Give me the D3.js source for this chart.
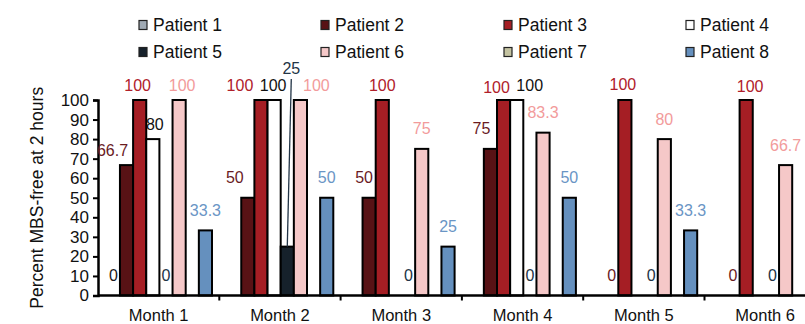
<!DOCTYPE html>
<html>
<head>
<meta charset="utf-8">
<script src="https://cdn.jsdelivr.net/npm/d3@7/dist/d3.min.js"></script>
<style>
  html, body { margin: 0; padding: 0; background: #fff; }
  svg { display: block; font-family: "Liberation Sans", Arial, sans-serif; }
</style>
</head>
<body>
<svg id="chart" width="805" height="324"></svg>
<script>
// Months on the x axis
const months = ["Month 1", "Month 2", "Month 3", "Month 4", "Month 5", "Month 6"];
// Patient series (null = no bar and no label)
const patients = ["Patient 1", "Patient 2", "Patient 3", "Patient 4",
                  "Patient 5", "Patient 6", "Patient 7", "Patient 8"];
const patient1 = [0, null, null, null, null, null];
const patient2 = [66.7, 50, 50, 75, 0, 0];
const patient3 = [100, 100, 100, 100, 100, 100];
const patient4 = [80, 100, null, 100, null, null];
const patient5 = [0, 25, 0, 0, 0, 0];
const patient6 = [100, 100, 75, 83.3, 80, 66.7];
const patient7 = [null, null, null, null, null, null];
const patient8 = [33.3, 50, 25, 50, 33.3, null];
const yTicks = [0, 10, 20, 30, 40, 50, 60, 70, 80, 90, 100];
const yTitle = "Percent MBS-free at 2 hours";

const series = [patient1, patient2, patient3, patient4, patient5, patient6, patient7, patient8];

// Styling per patient
const fills = ["#a0aab4", "#581215", "#a51e24", "#ffffff", "#16212b", "#f5c8c8", "#c4c3a1", "#6590be"];
const labelColors = ["#1a1a1a", "#6a1b1f", "#b0202a", "#111111", "#223446", "#f29b9b", "#8a896a", "#6a95c5"];

// Label nudges (dx, dy from default spot) keyed by month index and patient index
const nudges = {
  "0-1": [-14, 5], "0-2": [-2, 5], "0-3": [2, 5], "0-5": [3, 5],
  "1-1": [-13, 0], "1-2": [-21, 5], "1-3": [-1, 5], "1-5": [16, 5],
  "2-1": [-5, 0], "2-2": [0, 5],
  "3-1": [-9, 0], "3-2": [-7, 7], "3-3": [13, 5],
  "4-2": [-2, 4], "5-2": [4, 6]
};

const svg = d3.select("#chart");

const x = d3.scaleBand().domain(months).range([98, 98 + 6 * 121.3]).padding(0);
const xInner = d3.scaleBand().domain(patients).range([8.8, 8.8 + 8 * 13.15]).padding(0);
const y = d3.scaleLinear().domain([0, 100]).range([295.5, 100]);

// Bars
const cells = [];
series.forEach((vals, p) => vals.forEach((v, m) => {
  if (v !== null) cells.push({ m, p, v });
}));

svg.append("g").selectAll("rect")
  .data(cells.filter(d => d.v > 0))
  .join("rect")
  .attr("x", d => x(months[d.m]) + xInner(patients[d.p]))
  .attr("y", d => y(d.v))
  .attr("width", xInner.bandwidth())
  .attr("height", d => y(0) - y(d.v))
  .attr("fill", d => fills[d.p])
  .attr("stroke", "#000")
  .attr("stroke-width", 2);

// Y axis
const yAxis = svg.append("g")
  .attr("transform", "translate(98,0)")
  .call(d3.axisLeft(y).tickValues(yTicks).tickSize(5).tickPadding(4));
yAxis.select(".domain").attr("stroke", "#000").attr("stroke-width", 2.5);
yAxis.selectAll(".tick line").attr("stroke", "#000").attr("stroke-width", 2);
yAxis.selectAll(".tick text")
  .attr("font-size", 17).attr("fill", "#111").attr("font-family", "Liberation Sans, Arial, sans-serif");

// X axis with boundary ticks between months
const xAxis = svg.append("g").attr("transform", `translate(0,${y(0)})`);
xAxis.append("line")
  .attr("x1", 98).attr("x2", 98 + 6 * 121.3)
  .attr("stroke", "#000").attr("stroke-width", 2.5);
xAxis.selectAll("line.b")
  .data(months.slice(1))
  .join("line")
  .attr("class", "b")
  .attr("x1", d => x(d)).attr("x2", d => x(d))
  .attr("y1", 0).attr("y2", 5)
  .attr("stroke", "#000").attr("stroke-width", 2);
xAxis.selectAll("text")
  .data(months)
  .join("text")
  .attr("x", d => x(d) + x.bandwidth() / 2)
  .attr("y", 19.5)
  .attr("text-anchor", "middle")
  .attr("dominant-baseline", "central")
  .attr("font-size", 16.5)
  .attr("fill", "#111")
  .text(d => d);

// Y axis title
svg.append("text")
  .attr("transform", `translate(37,${(y(0) + y(100)) / 2}) rotate(-90)`)
  .attr("text-anchor", "middle")
  .attr("dominant-baseline", "central")
  .attr("font-size", 17.5)
  .attr("fill", "#111")
  .text(yTitle);

// Value labels
const labelG = svg.append("g");
cells.forEach(d => {
  const cx = x(months[d.m]) + xInner(patients[d.p]) + xInner.bandwidth() / 2;
  const nd = nudges[`${d.m}-${d.p}`] || [0, 0];
  let ly = y(d.v) - 20 + nd[1];
  let lx = cx + nd[0];
  if (d.p === 4 && d.v === 25) {
    // callout label with a leader line
    lx = cx + 4; ly = 68;
    labelG.append("line")
      .attr("x1", lx).attr("y1", ly + 11)
      .attr("x2", cx).attr("y2", y(d.v))
      .attr("stroke", "#223446").attr("stroke-width", 1.3);
  }
  labelG.append("text")
    .attr("x", lx).attr("y", ly)
    .attr("text-anchor", "middle")
    .attr("dominant-baseline", "central")
    .attr("font-size", 16)
    .attr("fill", labelColors[d.p])
    .text(d.v);
});

// Legend
const legendCols = [139, 321, 504, 686];
const legendRows = [25, 52];
const legend = svg.append("g").selectAll("g")
  .data(patients)
  .join("g")
  .attr("transform", (d, i) => `translate(${legendCols[i % 4]},${legendRows[Math.floor(i / 4)]})`);
legend.append("rect")
  .attr("x", 0).attr("y", -4.5)
  .attr("width", 8).attr("height", 9)
  .attr("fill", (d, i) => fills[i])
  .attr("stroke", "#222").attr("stroke-width", 1.2);
legend.append("text")
  .attr("x", 14).attr("y", 0)
  .attr("dominant-baseline", "central")
  .attr("font-size", 17.5)
  .attr("fill", "#111")
  .text(d => d);
</script>
</body>
</html>
